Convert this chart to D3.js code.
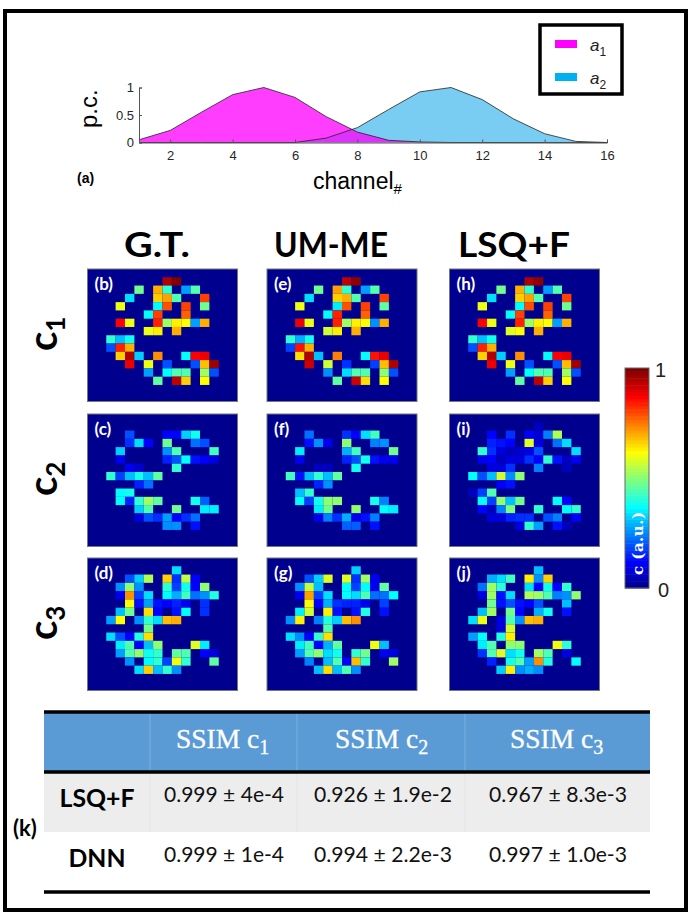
<!DOCTYPE html>
<html>
<head>
<meta charset="utf-8">
<style>
html, body { margin: 0; padding: 0; background: #fff; }
svg { display: block; }
</style>
<script src="https://cdnjs.cloudflare.com/ajax/libs/d3/7.8.5/d3.min.js"></script>
</head>
<body>
<svg width="690" height="922"></svg>
<script>
// spectra of the two components, channels 1..16
var channels = [1, 2, 3, 4, 5, 6, 7, 8, 9, 10, 11, 12, 13, 14, 15, 16];
var a1 = [0.05, 0.22, 0.55, 0.87, 1, 0.82, 0.47, 0.19, 0.04, 0.01, 0, 0, 0, 0, 0, 0];
var a2 = [0, 0, 0, 0, 0, 0, 0.08, 0.27, 0.6, 0.92, 1, 0.78, 0.43, 0.16, 0.02, 0];

// cells that are not zero, each one is [row, col, value]
var gtC1 = [[1,8,.94],[1,9,.99],[2,5,.48],[2,7,.70],[2,8,.42],[2,10,.28],[2,11,.45],[3,4,.34],[3,7,.66],[3,8,.71],[3,9,.44],[3,12,.81],
  [4,3,.60],[4,7,.36],[4,8,.79],[4,10,.80],[4,12,.47],[5,6,.36],[5,7,.81],[5,10,.77],[6,3,.86],[6,4,.60],[6,7,.84],[6,8,.53],[6,9,.64],[6,10,.62],[6,11,.27],[6,12,.69],
  [7,6,.60],[7,7,.63],[7,9,.69],[8,2,.42],[8,3,.30],[8,4,.38],[9,2,.20],[9,3,.84],[9,4,.70],[10,3,.66],[10,4,.95],[10,5,.32],[10,7,.73],[10,10,.36],[10,11,.87],[10,12,.88],
  [11,4,.89],[11,6,.60],[11,8,.20],[11,11,.20],[11,12,.68],[11,13,.96],[12,6,.27],[12,8,.36],[12,9,.45],[12,10,.44],[12,12,.52],[12,13,.20],[13,7,.46],[13,9,.93],[13,10,.67],[13,12,.62]];
var gtC2 = [[2,4,.20],[2,8,.12],[2,9,.12],[2,10,.32],[2,11,.39],[3,4,.16],[3,5,.33],[3,6,.11],[3,8,.47],[3,11,.22],[3,12,.20],[4,3,.32],[4,8,.26],[4,9,.45],[4,13,.43],
  [5,3,.10],[5,8,.15],[5,9,.20],[5,10,.36],[5,11,.13],[5,12,.11],[5,13,.09],[6,4,.10],[6,5,.07],[6,9,.41],[7,2,.42],[7,3,.18],[7,4,.30],[7,5,.39],[7,6,.30],[7,7,.46],[8,5,.15],[8,6,.23],
  [9,3,.37],[9,4,.39],[10,3,.36],[10,4,.15],[10,5,.41],[10,6,.52],[10,7,.46],[10,11,.38],[10,12,.21],[11,5,.32],[11,6,.44],[11,9,.47],[11,12,.35],[11,13,.35],
  [12,5,.09],[12,6,.20],[12,7,.17],[12,8,.27],[12,9,.12],[12,10,.16],[12,11,.22],[13,8,.25],[13,9,.26],[13,11,.14]];
var gtC3 = [[1,9,.34],[2,4,.20],[2,5,.32],[2,6,.54],[2,8,.67],[2,9,.16],[2,10,.56],[2,11,.12],[3,3,.26],[3,4,.50],[3,5,.26],[3,8,.42],[3,9,.18],[3,10,.38],[3,11,.12],[3,12,.50],
  [4,3,.10],[4,4,.72],[4,5,.18],[4,6,.34],[4,8,.37],[4,9,.29],[4,10,.43],[4,11,.22],[4,12,.25],[4,13,.40],[5,4,.62],[5,5,.13],[5,6,.28],[5,7,.14],[5,8,.12],[5,9,.15],[5,10,.10],[5,12,.16],
  [6,3,.30],[6,4,.47],[6,6,.65],[6,7,.12],[6,9,.13],[6,10,.37],[6,12,.16],[7,2,.28],[7,3,.62],[7,5,.25],[7,6,.41],[7,7,.34],[7,8,.68],[7,9,.70],[8,6,.47],
  [9,2,.33],[9,3,.19],[9,4,.11],[9,5,.40],[9,6,.65],[10,3,.35],[10,4,.45],[10,5,.12],[10,6,.30],[10,7,.50],[10,11,.58],[10,12,.35],
  [11,3,.27],[11,4,.44],[11,5,.51],[11,6,.38],[11,7,.41],[11,9,.46],[11,10,.45],[11,12,.11],[11,13,.09],[12,4,.25],[12,6,.36],[12,7,.42],[12,8,.18],[12,9,.60],[12,10,.41],[12,13,.46],
  [13,5,.33],[13,6,.66],[13,7,.31],[13,8,.42],[13,9,.26]];

var umC1 = [[1,8,.93],[1,9,.97],[2,5,.48],[2,7,.71],[2,8,.41],[2,10,.27],[2,11,.45],[3,4,.33],[3,7,.66],[3,8,.69],[3,9,.44],[3,12,.81],
  [4,3,.60],[4,7,.35],[4,8,.79],[4,10,.80],[4,12,.46],[5,6,.36],[5,7,.83],[5,10,.77],[6,3,.88],[6,4,.60],[6,7,.83],[6,8,.52],[6,9,.63],[6,10,.62],[6,11,.26],[6,12,.70],
  [7,6,.57],[7,7,.63],[7,9,.69],[8,2,.42],[8,3,.29],[8,4,.38],[9,2,.18],[9,3,.85],[9,4,.69],[10,3,.65],[10,4,.95],[10,5,.30],[10,7,.74],[10,10,.36],[10,11,.85],[10,12,.88],
  [11,4,.92],[11,6,.57],[11,8,.17],[11,11,.18],[11,12,.68],[11,13,.95],[12,6,.25],[12,8,.34],[12,9,.45],[12,10,.44],[12,12,.51],[12,13,.20],[13,7,.46],[13,9,.92],[13,10,.65],[13,12,.62]];
var umC2 = [[2,4,.22],[2,8,.17],[2,9,.12],[2,10,.34],[2,11,.43],[3,4,.14],[3,5,.26],[3,6,.10],[3,8,.50],[3,11,.24],[3,12,.25],[4,3,.35],[4,8,.29],[4,9,.43],[4,13,.47],
  [5,3,.10],[5,8,.15],[5,9,.19],[5,10,.38],[5,11,.13],[5,12,.10],[5,13,.10],[6,5,.06],[6,6,.05],[6,9,.38],[7,2,.43],[7,3,.13],[7,4,.31],[7,5,.42],[7,6,.31],[7,7,.46],[8,5,.15],[8,6,.25],
  [9,3,.30],[9,4,.41],[10,3,.36],[10,4,.18],[10,5,.38],[10,6,.51],[10,7,.51],[10,11,.38],[10,12,.24],[11,5,.35],[11,6,.48],[11,9,.50],[11,12,.36],[11,13,.35],
  [12,5,.10],[12,6,.24],[12,7,.16],[12,8,.29],[12,9,.10],[12,10,.14],[12,11,.24],[13,8,.21],[13,9,.21],[13,11,.13]];
var umC3 = [[1,9,.32],[2,4,.20],[2,5,.32],[2,6,.58],[2,8,.58],[2,9,.16],[2,10,.53],[2,11,.10],[3,3,.26],[3,4,.55],[3,5,.30],[3,8,.36],[3,9,.18],[3,10,.37],[3,11,.10],[3,12,.46],
  [4,3,.10],[4,4,.71],[4,5,.18],[4,6,.34],[4,8,.36],[4,9,.33],[4,10,.44],[4,11,.23],[4,12,.23],[4,13,.36],[5,4,.61],[5,5,.12],[5,6,.29],[5,7,.17],[5,8,.15],[5,9,.15],[5,10,.10],[5,12,.18],
  [6,3,.35],[6,4,.57],[6,6,.63],[6,7,.13],[6,9,.13],[6,10,.40],[6,12,.14],[7,2,.26],[7,3,.64],[7,5,.24],[7,6,.40],[7,7,.32],[7,8,.68],[7,9,.72],[8,6,.45],
  [9,2,.33],[9,3,.25],[9,4,.12],[9,5,.41],[9,6,.65],[10,3,.35],[10,4,.43],[10,5,.12],[10,6,.29],[10,7,.46],[10,11,.60],[10,12,.31],
  [11,3,.27],[11,4,.44],[11,5,.50],[11,6,.33],[11,7,.38],[11,9,.42],[11,10,.47],[11,12,.10],[11,13,.09],[12,4,.24],[12,6,.30],[12,7,.45],[12,8,.12],[12,9,.68],[12,10,.42],[12,13,.52],
  [13,5,.31],[13,6,.65],[13,7,.30],[13,8,.45],[13,9,.26]];

var lsqC1 = [[1,8,.94],[1,9,.98],[2,5,.48],[2,7,.70],[2,8,.42],[2,10,.28],[2,11,.45],[3,4,.34],[3,7,.66],[3,8,.71],[3,9,.44],[3,12,.81],
  [4,3,.60],[4,7,.36],[4,8,.79],[4,10,.80],[4,12,.47],[5,6,.36],[5,7,.81],[5,10,.77],[6,3,.86],[6,4,.60],[6,7,.84],[6,8,.53],[6,9,.64],[6,10,.62],[6,11,.27],[6,12,.69],
  [7,6,.59],[7,7,.62],[7,9,.69],[8,2,.42],[8,3,.30],[8,4,.38],[9,2,.20],[9,3,.84],[9,4,.70],[10,3,.66],[10,4,.95],[10,5,.32],[10,7,.73],[10,10,.36],[10,11,.87],[10,12,.88],
  [11,4,.89],[11,6,.60],[11,8,.20],[11,11,.20],[11,12,.68],[11,13,.96],[12,6,.27],[12,8,.36],[12,9,.45],[12,10,.44],[12,12,.52],[12,13,.20],[13,7,.46],[13,9,.93],[13,10,.67],[13,12,.62]];
var lsqC2 = [[1,9,.06],[2,4,.12],[2,6,.16],[2,8,.12],[2,9,.07],[2,10,.24],[2,11,.54],[3,4,.15],[3,5,.13],[3,6,.11],[3,8,.58],[3,9,.09],[3,11,.22],[3,12,.33],
  [4,3,.42],[4,4,.17],[4,5,.08],[4,6,.06],[4,7,.07],[4,8,.10],[4,9,.20],[4,13,.34],[5,3,.10],[5,4,.11],[5,5,.06],[5,6,.09],[5,7,.08],[5,8,.17],[5,9,.12],[5,10,.42],[5,11,.13],[5,12,.05],[5,13,.10],
  [6,4,.08],[6,5,.09],[6,6,.16],[6,9,.24],[6,12,.06],[7,2,.37],[7,3,.20],[7,4,.31],[7,5,.57],[7,6,.26],[7,7,.51],[8,5,.11],[8,6,.13],[9,2,.05],[9,3,.18],[9,4,.45],
  [10,3,.36],[10,4,.18],[10,5,.50],[10,6,.30],[10,7,.47],[10,11,.37],[10,12,.12],[11,3,.12],[11,4,.05],[11,5,.24],[11,6,.49],[11,9,.41],[11,12,.36],[11,13,.42],
  [12,4,.08],[12,5,.09],[12,6,.15],[12,7,.17],[12,8,.17],[12,10,.20],[12,11,.24],[12,13,.12],[13,7,.08],[13,8,.41],[13,9,.27],[13,11,.14],[13,12,.05]];
var lsqC3 = [[1,9,.30],[2,4,.29],[2,5,.34],[2,6,.43],[2,8,.64],[2,9,.26],[2,10,.67],[3,3,.23],[3,4,.52],[3,5,.41],[3,8,.33],[3,9,.12],[3,10,.38],[3,11,.11],[3,12,.42],
  [4,3,.08],[4,4,.53],[4,5,.14],[4,6,.34],[4,8,.54],[4,9,.52],[4,10,.45],[4,11,.24],[4,12,.25],[4,13,.50],[5,4,.47],[5,5,.14],[5,6,.20],[5,7,.13],[5,8,.11],[5,9,.20],[5,12,.30],
  [6,3,.30],[6,4,.52],[6,6,.47],[6,7,.12],[6,9,.29],[6,10,.38],[6,12,.13],[7,2,.33],[7,3,.60],[7,5,.09],[7,6,.45],[7,7,.25],[7,8,.68],[7,9,.69],[8,5,.09],[8,6,.57],
  [9,2,.28],[9,3,.36],[9,5,.40],[9,6,.63],[10,3,.35],[10,4,.45],[10,6,.50],[10,7,.50],[10,11,.60],[10,12,.42],[11,3,.17],[11,4,.44],[11,5,.58],[11,6,.33],[11,7,.38],[11,9,.52],[11,10,.45],[11,12,.09],
  [12,4,.15],[12,6,.39],[12,7,.45],[12,8,.27],[12,9,.73],[12,10,.40],[12,13,.37],[13,5,.32],[13,6,.64],[13,7,.25],[13,8,.29],[13,9,.25]];

var methods = ["G.T.", "UM-ME", "LSQ+F"];
var panelLabels = [["(b)", "(c)", "(d)"], ["(e)", "(f)", "(g)"], ["(h)", "(i)", "(j)"]];
var panelData = [[gtC1, gtC2, gtC3], [umC1, umC2, umC3], [lsqC1, lsqC2, lsqC3]];

var tableHead = ["1", "2", "3"];
var tableRows = ["LSQ+F", "DNN"];
var tableValues = [["0.999 ± 4e-4", "0.926 ± 1.9e-2", "0.967 ± 8.3e-3"], ["0.999 ± 1e-4", "0.994 ± 2.2e-3", "0.997 ± 1.0e-3"]];

var svg = d3.select("svg");
var lato = "Lato, sans-serif";
var helv = "'Liberation Sans', Arial, sans-serif";

// outer frame
svg.append("rect").attr("x", 5).attr("y", 11).attr("width", 681).attr("height", 899)
    .attr("fill", "none").attr("stroke", "#000").attr("stroke-width", 4);

// ---- (a) spectra ----
var x = d3.scaleLinear().domain([1, 16]).range([139, 607]);
var y = d3.scaleLinear().domain([0, 1]).range([142.5, 87.5]);
var area = d3.area().x(function(d, i) { return x(channels[i]); }).y0(y(0)).y1(function(d) { return y(d); });
var curve = d3.line().x(function(d, i) { return x(channels[i]); }).y(function(d) { return y(d); });

svg.append("path").datum(a2).attr("d", area).attr("fill", "#00a0e6").attr("fill-opacity", 0.52);
svg.append("path").datum(a1).attr("d", area).attr("fill", "#ff00ff").attr("fill-opacity", 0.76);
svg.append("path").datum(a1).attr("d", curve).attr("fill", "none").attr("stroke", "#222").attr("stroke-width", 0.8);
svg.append("path").datum(a2).attr("d", curve).attr("fill", "none").attr("stroke", "#222").attr("stroke-width", 0.8);

var xAxis = svg.append("g").attr("transform", "translate(0," + y(0) + ")")
    .call(d3.axisBottom(x).tickValues(d3.range(2, 17, 2)).tickSize(-3).tickPadding(8));
var yAxis = svg.append("g").attr("transform", "translate(" + x(1) + ",0)")
    .call(d3.axisLeft(y).tickValues([0, 0.5, 1]).tickFormat(d3.format("")).tickSize(-3).tickPadding(5));
svg.selectAll(".domain, .tick line").attr("stroke", "#555");
xAxis.selectAll("text").attr("font-family", helv).attr("font-size", 13).attr("fill", "#262626");
yAxis.selectAll("text").attr("font-family", helv).attr("font-size", 13).attr("fill", "#262626");

svg.append("text").attr("transform", "translate(97,128) rotate(-90)").attr("font-family", helv).attr("font-size", 24).text("p.c.");
var xTitle = svg.append("text").attr("x", 313).attr("y", 189).attr("font-family", helv).attr("font-size", 23).text("channel");
xTitle.append("tspan").attr("dy", 5).attr("font-size", 15).text("#");
svg.append("text").attr("x", 77).attr("y", 183).attr("font-family", helv).attr("font-weight", "bold").attr("font-size", 14).text("(a)");

// legend
var legend = svg.append("g");
legend.append("rect").attr("x", 540).attr("y", 25).attr("width", 82).attr("height", 69)
    .attr("fill", "#fff").attr("stroke", "#000").attr("stroke-width", 3.5);
[["#ff00ff", "1", 40], ["#00b0f0", "2", 73]].forEach(function(d) {
    legend.append("rect").attr("x", 555).attr("y", d[2]).attr("width", 22).attr("height", 8).attr("fill", d[0]);
    var t = legend.append("text").attr("x", 590).attr("y", d[2] + 11).attr("font-family", helv).attr("font-size", 17).attr("fill", "#222");
    t.append("tspan").attr("font-style", "italic").text("a");
    t.append("tspan").attr("dy", 5).attr("font-size", 12).text(d[1]);
});

// ---- heat maps ----
// MATLAB jet with 64 levels
var jetRamp = d3.scaleLinear()
    .domain([0, 7 / 63, 23 / 63, 39 / 63, 55 / 63, 1])
    .range(["#00008f", "#0000ff", "#00ffff", "#ffff00", "#ff0000", "#800000"]);
function jet(v) { return jetRamp(Math.min(63, Math.floor(v * 64)) / 63); }

var panelX = d3.scaleOrdinal().domain([0, 1, 2]).range([87.5, 267, 449.5]);
var panelY = d3.scaleOrdinal().domain([0, 1, 2]).range([269, 414, 558]);
var col = d3.scaleBand().domain(d3.range(16)).range([0, 150]);
var row = d3.scaleBand().domain(d3.range(16)).range([0, 132.5]);

panelData.forEach(function(columnData, m) {
    columnData.forEach(function(cells, c) {
        var g = svg.append("g").attr("transform", "translate(" + panelX(m) + "," + panelY(c) + ")");
        g.append("rect").attr("width", 150).attr("height", 132.5).attr("fill", jet(0));
        g.selectAll(".cell").data(cells).enter().append("rect")
            .attr("class", "cell")
            .attr("x", function(d) { return col(d[1]); })
            .attr("y", function(d) { return row(d[0]); })
            .attr("width", col.bandwidth())
            .attr("height", row.bandwidth())
            .attr("fill", function(d) { return jet(d[2]); });
        g.append("rect").attr("width", 150).attr("height", 132.5).attr("fill", "none").attr("stroke", "#777").attr("stroke-width", 1);
        g.append("text").attr("x", 7).attr("y", 21).attr("fill", "#fff").attr("font-family", lato)
            .attr("font-weight", "bold").attr("font-size", 17).text(panelLabels[m][c]);
    });
});

svg.selectAll(".method").data(methods).enter().append("text")
    .attr("class", "method")
    .attr("x", function(d, i) { return [124, 274, 458][i]; })
    .attr("y", 257)
    .attr("textLength", function(d, i) { return [66, 114, 112][i]; })
    .attr("lengthAdjust", "spacingAndGlyphs")
    .attr("font-family", lato).attr("font-weight", "bold").attr("font-size", 35)
    .text(function(d) { return d; });

[1, 2, 3].forEach(function(n, i) {
    var t = svg.append("text").attr("transform", "translate(57," + (panelY(i) + 82) + ") rotate(-90)")
        .attr("font-family", lato).attr("font-weight", "bold").attr("font-size", 40).text("c");
    t.append("tspan").attr("dy", 8).attr("font-size", 26).text(n);
});

// colour bar
var barX = 625, barW = 24;
var barY = d3.scaleLinear().domain([0, 1]).range([588, 368]);
var levels = d3.range(64);
svg.selectAll(".lvl").data(levels).enter().append("rect")
    .attr("class", "lvl")
    .attr("x", barX).attr("width", barW)
    .attr("y", function(d) { return barY((d + 1) / 64); })
    .attr("height", barY(0) - barY(1 / 64) + 0.5)
    .attr("fill", function(d) { return jet((d + 0.5) / 64); });
svg.append("rect").attr("x", barX).attr("y", barY(1)).attr("width", barW).attr("height", barY(0) - barY(1))
    .attr("fill", "none").attr("stroke", "#666");
svg.append("text").attr("x", 655).attr("y", barY(1) + 9).attr("font-family", helv).attr("font-size", 20).attr("fill", "#222").text("1");
svg.append("text").attr("x", 658).attr("y", barY(0) + 9).attr("font-family", helv).attr("font-size", 20).attr("fill", "#222").text("0");
svg.append("text").attr("transform", "translate(643,575) rotate(-90)").attr("fill", "#fff")
    .attr("font-family", "'DejaVu Serif', serif").attr("font-size", 15).attr("font-weight", "bold")
    .attr("textLength", 63).text("c (a.u.)");

// ---- (k) table ----
var tx = d3.scaleLinear().domain([0, 1]).range([44, 650]);
var colEdges = [150, 297, 465];
var colCenters = [223, 382, 557];
var t0 = 712, t1 = 772, t2 = 832, t3 = 892;

svg.append("rect").attr("x", tx(0)).attr("y", t0).attr("width", tx(1) - tx(0)).attr("height", t1 - t0).attr("fill", "#5b9bd5");
svg.append("rect").attr("x", tx(0)).attr("y", t1).attr("width", tx(1) - tx(0)).attr("height", t2 - t1).attr("fill", "#ededed");
colEdges.forEach(function(e) {
    svg.append("line").attr("x1", e).attr("x2", e).attr("y1", t0).attr("y2", t1).attr("stroke", "#7bb0e0").attr("stroke-width", 1);
    svg.append("line").attr("x1", e).attr("x2", e).attr("y1", t1).attr("y2", t2).attr("stroke", "#e4e4e4").attr("stroke-width", 1);
});
[t0, t1, t3].forEach(function(yy) {
    svg.append("line").attr("x1", tx(0)).attr("x2", tx(1)).attr("y1", yy).attr("y2", yy).attr("stroke", "#000").attr("stroke-width", 3.5);
});

tableHead.forEach(function(n, i) {
    var t = svg.append("text").attr("x", colCenters[i] - 47).attr("y", 748)
        .attr("fill", "#fff").attr("stroke", "#fff").attr("stroke-width", 0.3)
        .attr("font-family", "'Liberation Serif', serif").attr("font-size", 27.5).text("SSIM c");
    t.append("tspan").attr("dy", 6).attr("font-size", 20).text(n);
});
tableRows.forEach(function(name, r) {
    svg.append("text").attr("x", 97).attr("y", [807, 867][r]).attr("text-anchor", "middle")
        .attr("textLength", [75, 57][r]).attr("lengthAdjust", "spacingAndGlyphs")
        .attr("font-family", lato).attr("font-weight", "bold").attr("font-size", 25).text(name);
    tableValues[r].forEach(function(v, i) {
        svg.append("text").attr("x", colCenters[i] + 1).attr("y", [802, 862][r]).attr("text-anchor", "middle")
            .attr("textLength", i == 0 ? 120 : 138).attr("lengthAdjust", "spacingAndGlyphs")
            .attr("font-family", lato).attr("font-size", 22).attr("fill", "#111").text(v);
    });
});
svg.append("text").attr("x", 13).attr("y", 836).attr("font-family", lato).attr("font-weight", "bold").attr("font-size", 22).text("(k)");
</script>
</body>
</html>
